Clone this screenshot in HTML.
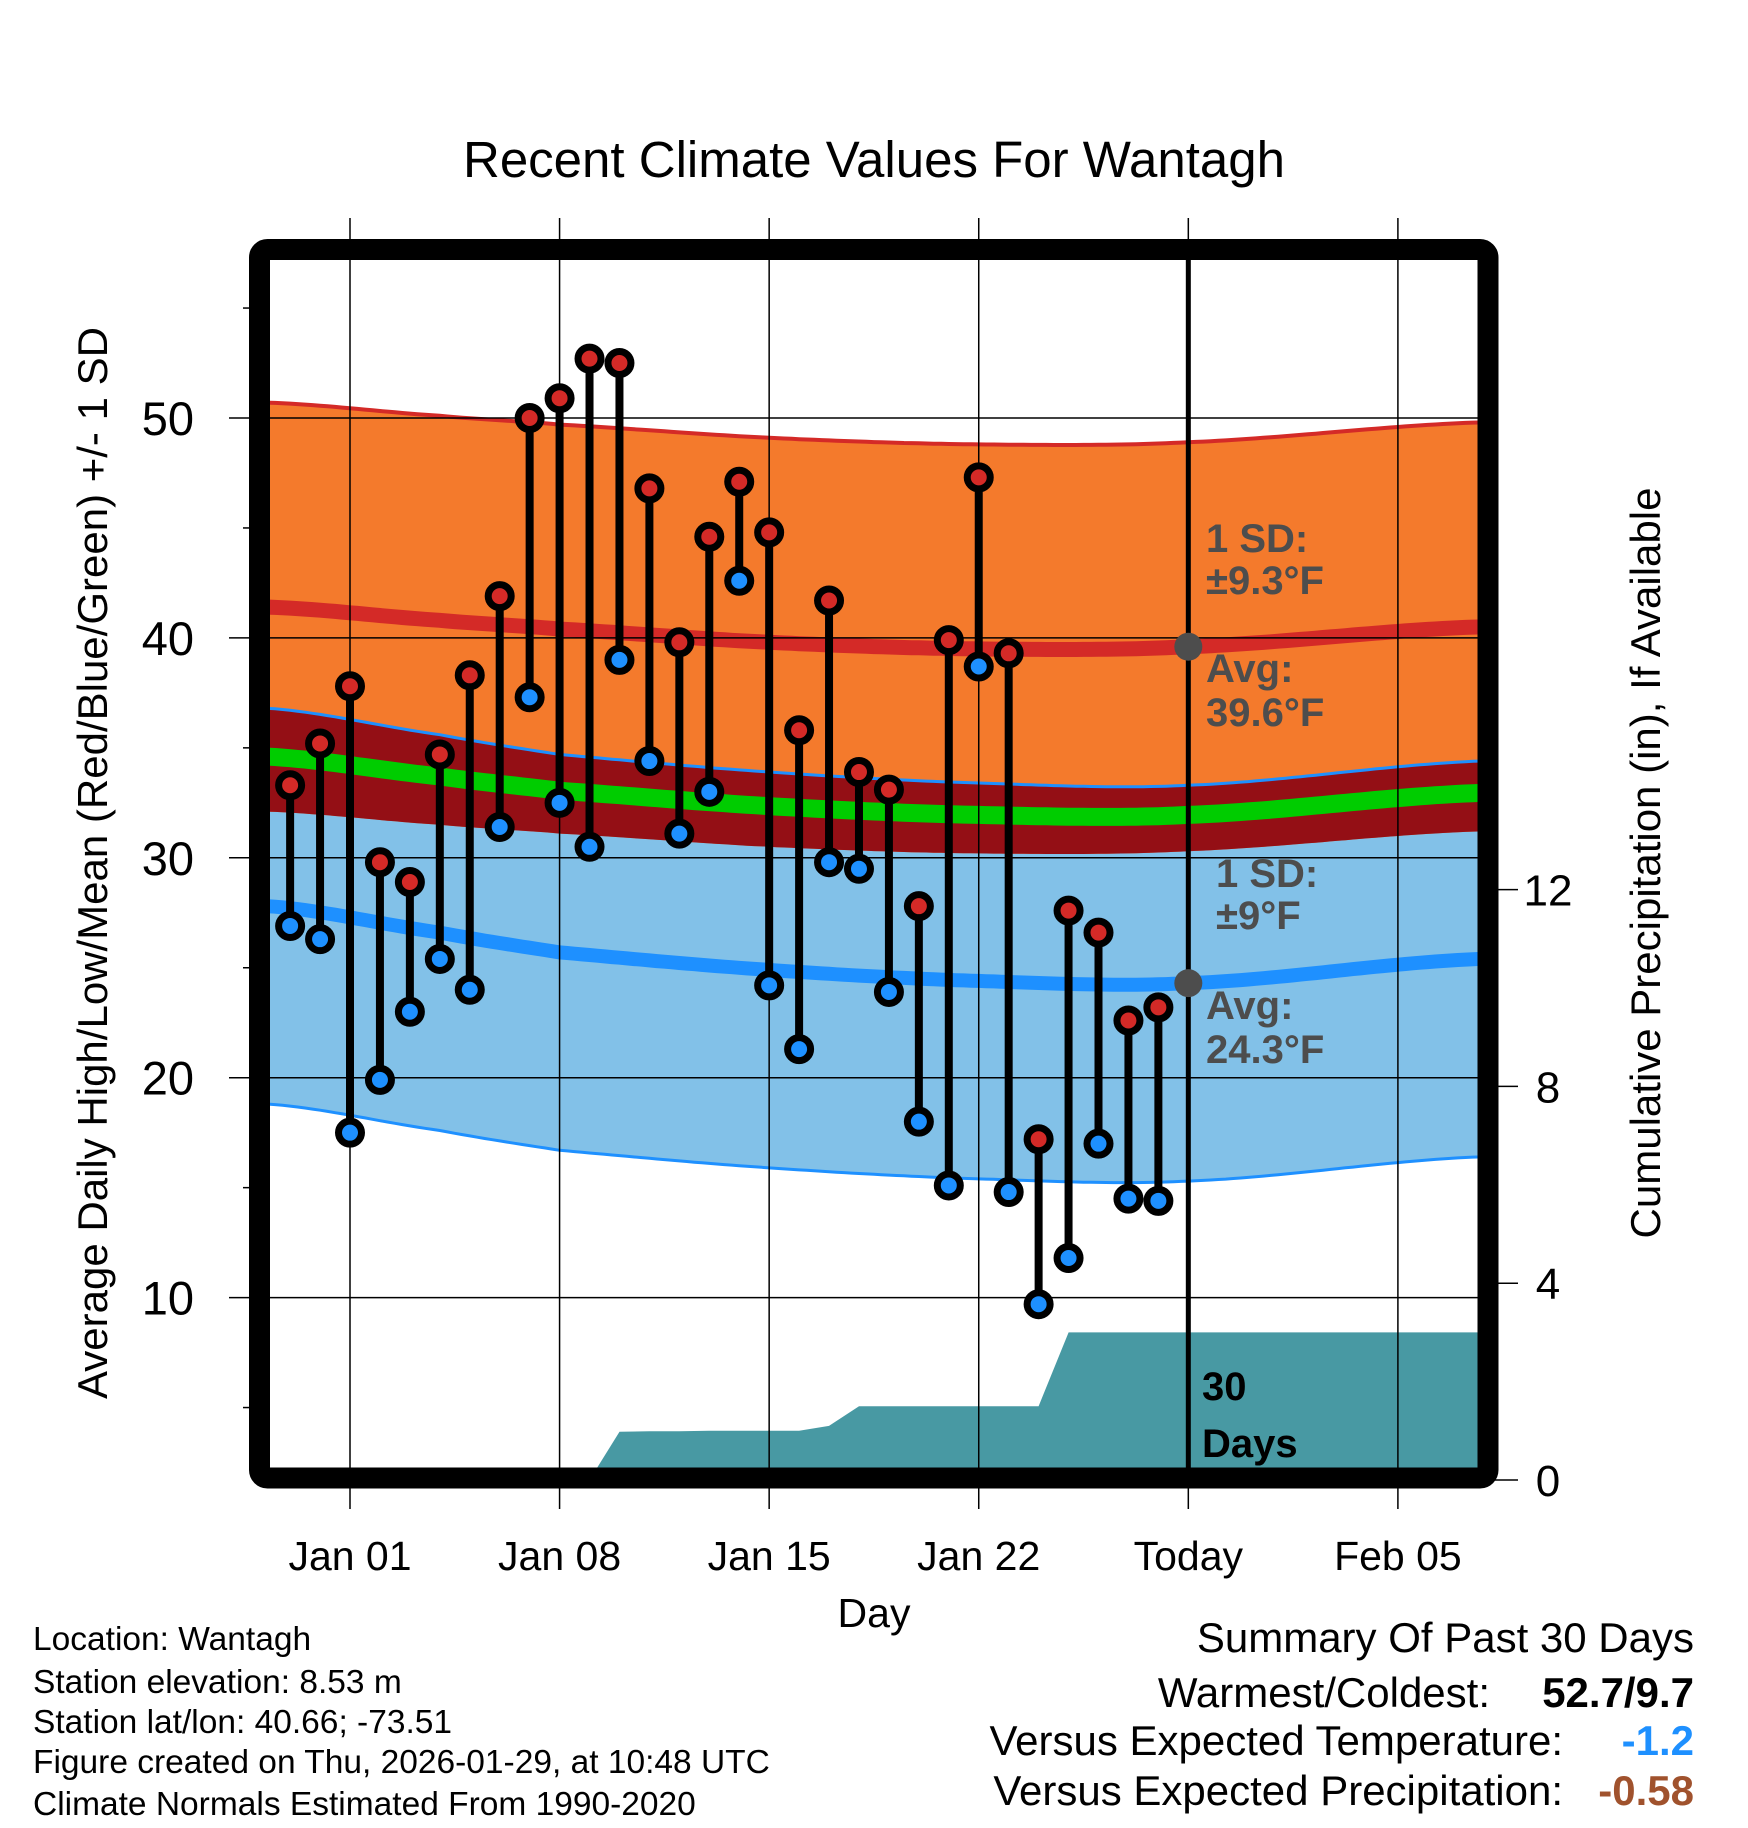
<!DOCTYPE html>
<html><head><meta charset="utf-8"><style>
html,body{margin:0;padding:0;background:#fff;}
svg{display:block;font-family:"Liberation Sans",Arial,sans-serif;}
</style></head><body>
<svg id="chart" xmlns="http://www.w3.org/2000/svg" width="1748" height="1828" viewBox="0 0 1748 1828">
<defs><clipPath id="plotclip"><rect x="270" y="260" width="1208" height="1208"/></clipPath></defs>
<text x="874" y="177" font-size="51" text-anchor="middle">Recent Climate Values For Wantagh</text>
<g id="bands" clip-path="url(#plotclip)"></g>
<g id="grid"></g>
<g id="marks" clip-path="url(#plotclip)"></g>
<rect x="259.5" y="249.5" width="1228.5" height="1228.5" rx="8" fill="none" stroke="#000" stroke-width="21"/>
<g id="axes"></g>
<text transform="translate(107,863) rotate(-90)" font-size="42" text-anchor="middle">Average Daily High/Low/Mean (Red/Blue/Green) +/- 1 SD</text>
<text transform="translate(1660,863) rotate(-90)" font-size="42" text-anchor="middle">Cumulative Precipitation (in), If Available</text>
<text x="874" y="1627" font-size="41" text-anchor="middle">Day</text>
<g font-size="40" font-weight="bold" fill="#4d4d4d">
<text x="1206" y="552">1 SD:</text><text x="1206" y="594">±9.3°F</text>
<text x="1206" y="682">Avg:</text><text x="1206" y="726">39.6°F</text>
</g>
<g font-size="40" font-weight="bold" fill="#4d4d4d">
<text x="1216" y="887">1 SD:</text><text x="1216" y="929">±9°F</text>
<text x="1206" y="1019">Avg:</text><text x="1206" y="1063">24.3°F</text>
</g>
<g font-size="40" font-weight="bold" fill="#000">
<text x="1202" y="1400">30</text><text x="1202" y="1457">Days</text>
</g>
<g font-size="33.5" fill="#000">
<text x="33" y="1650">Location: Wantagh</text>
<text x="33" y="1693">Station elevation: 8.53 m</text>
<text x="33" y="1733">Station lat/lon: 40.66; -73.51</text>
<text x="33" y="1773">Figure created on Thu, 2026-01-29, at 10:48 UTC</text>
<text x="33" y="1815">Climate Normals Estimated From 1990-2020</text>
</g>
<g font-size="42" fill="#000" text-anchor="end">
<text x="1694" y="1652">Summary Of Past 30 Days</text>
<text x="1490" y="1707">Warmest/Coldest:</text>
<text x="1694" y="1707" font-weight="bold">52.7/9.7</text>
<text x="1563" y="1755">Versus Expected Temperature:</text>
<text x="1694" y="1755" font-weight="bold" fill="#1e90ff">-1.2</text>
<text x="1563" y="1805">Versus Expected Precipitation:</text>
<text x="1694" y="1805" font-weight="bold" fill="#a0522d">-0.58</text>
</g>
</svg>
<script>
// ---- data ----
const normDays = [-2.7, 3, 7, 14, 21, 28, 37.7];
const highAvg = [41.4, 40.8, 40.4, 39.8, 39.5, 39.6, 40.5];
const lowAvg = [27.8, 26.6, 25.7, 24.9, 24.4, 24.3, 25.4];
const highSD = 9.3;
const lowSD = 9.0;
const obsDays = [-2,-1,0,1,2,3,4,5,6,7,8,9,10,11,12,13,14,15,16,17,18,19,20,21,22,23,24,25,26,27];
const highs = [33.3,35.2,37.8,29.8,28.9,34.7,38.3,41.9,50.0,50.9,52.7,52.5,46.8,39.8,44.6,47.1,44.8,35.8,41.7,33.9,33.1,27.8,39.9,47.3,39.3,17.2,27.6,26.6,22.6,23.2];
const lows = [26.9,26.3,17.5,19.9,23.0,25.4,24.0,31.4,37.3,32.5,30.5,39.0,34.4,31.1,33.0,42.6,24.2,21.3,29.8,29.5,23.9,18.0,15.1,38.7,14.8,9.7,11.8,17.0,14.5,14.4];
const precipDays = [-2,8,9,10,11,12,13,14,15,16,17,23,24,28,37.7];
const precipVals = [0,0,0.98,0.99,0.99,1.0,1.0,1.0,1.0,1.1,1.5,1.5,3.0,3.0,3.0];
const xTickDays = [0,7,14,21,28,35];
const xTickLabels = ["Jan 01","Jan 08","Jan 15","Jan 22","Today","Feb 05"];
const yTicks = [10,20,30,40,50];
const y2Ticks = [0,4,8,12];
const todayDay = 28;

// ---- scales ----
const X = d => 350 + d * 29.94;
const Y = t => 418 + (50 - t) * 21.99;
const Y2 = p => 1480 - p * 49.2;
const NS = "http://www.w3.org/2000/svg";
function mk(tag, attrs, parent){const e=document.createElementNS(NS,tag);for(const k in attrs)e.setAttribute(k,attrs[k]);parent.appendChild(e);return e;}
function interp(xs, ys, x){
  if(x<=xs[0])return ys[0];
  for(let i=0;i<xs.length-1;i++){
    if(x<=xs[i+1]){
      const p0=ys[Math.max(i-1,0)],p1=ys[i],p2=ys[i+1],p3=ys[Math.min(i+2,ys.length-1)];
      const t=(x-xs[i])/(xs[i+1]-xs[i]);
      return 0.5*((2*p1)+(-p0+p2)*t+(2*p0-5*p1+4*p2-p3)*t*t+(-p0+3*p1-3*p2+p3)*t*t*t);
    }
  }
  return ys[ys.length-1];
}
const samp=[];for(let d=-3;d<=38;d+=0.25)samp.push(d);
const hA=d=>interp(normDays,highAvg,d), lA=d=>interp(normDays,lowAvg,d);
function line(f){return samp.map((d,i)=>(i?"L":"M")+X(d).toFixed(1)+","+Y(f(d)).toFixed(1)).join("");}
function band(fTop,fBot){
  let s=samp.map((d,i)=>(i?"L":"M")+X(d).toFixed(1)+","+Y(fTop(d)).toFixed(1)).join("");
  s+=samp.slice().reverse().map(d=>"L"+X(d).toFixed(1)+","+Y(fBot(d)).toFixed(1)).join("");
  return s+"Z";
}
const bands=document.getElementById("bands");
let e;
e=mk("path",{d:band(d=>lA(d)+lowSD,d=>lA(d)-lowSD),fill:"#82c1e8"},bands);


e=mk("path",{d:band(d=>hA(d)+highSD,d=>hA(d)-highSD),fill:"#f47a2c"},bands);


e=mk("path",{d:band(d=>lA(d)+lowSD,d=>hA(d)-highSD),fill:"#940f15"},bands);


e=mk("path",{d:line(d=>lA(d)+lowSD),fill:"none",stroke:"#1e90ff",'stroke-width':3},bands);


e=mk("path",{d:line(d=>lA(d)-lowSD),fill:"none",stroke:"#1e90ff",'stroke-width':3},bands);


e=mk("path",{d:line(d=>hA(d)+highSD),fill:"none",stroke:"#d42a27",'stroke-width':4},bands);


e=mk("path",{d:line(hA),fill:"none",stroke:"#d42a27",'stroke-width':15},bands);


e=mk("path",{d:line(lA),fill:"none",stroke:"#1e90ff",'stroke-width':14},bands);


e=mk("path",{d:line(d=>(hA(d)+lA(d))/2),fill:"none",stroke:"#00cc00",'stroke-width':18},bands);


// precipitation
let pd="M"+X(precipDays[0])+","+Y2(0);
precipDays.forEach((d,i)=>{pd+="L"+X(d).toFixed(1)+","+Y2(precipVals[i]).toFixed(1);});
pd+="L"+X(precipDays[precipDays.length-1])+","+Y2(0)+"Z";
e=mk("path",{d:pd,fill:"#4899a3"},bands);



// grid + ticks
const grid=document.getElementById("grid"), axes=document.getElementById("axes");
xTickDays.forEach((d,i)=>{
  const x=X(d);
  e=mk("line",{x1:x,y1:218,x2:x,y2:1509,stroke:"#000",'stroke-width':1.5},grid);
  
  
  if(d===todayDay){
    e=mk("line",{x1:x,y1:260,x2:x,y2:1468,stroke:"#000",'stroke-width':5},grid);
    
    
  }
  e=mk("text",{x:x,y:1570,'font-size':41,'text-anchor':'middle'},axes);
  e.textContent=xTickLabels[i];
  
  
});
yTicks.forEach(t=>{
  const y=Y(t);
  e=mk("line",{x1:229,y1:y,x2:1478,y2:y,stroke:"#000",'stroke-width':1.5},grid);
  
  
  e=mk("text",{x:194,y:y+17,'font-size':47,'text-anchor':'end'},axes);
  e.textContent=String(t);
  
  
});
for(let t=5;t<=55;t+=10){
  e=mk("line",{x1:243,y1:Y(t),x2:250,y2:Y(t),stroke:"#000",'stroke-width':1.5},axes);
  
  
}
y2Ticks.forEach(p=>{
  const y=Y2(p);
  e=mk("line",{x1:1495,y1:y,x2:1518,y2:y,stroke:"#000",'stroke-width':1.5},axes);
  
  
  e=mk("text",{x:1548,y:y+16,'font-size':44,'text-anchor':'middle'},axes);
  e.textContent=String(p);
  
  
});

// observations
const marks=document.getElementById("marks");
obsDays.forEach((d,i)=>{
  const x=X(d);
  e=mk("line",{x1:x,y1:Y(highs[i]),x2:x,y2:Y(lows[i]),stroke:"#000",'stroke-width':8},marks);
  
  
});
obsDays.forEach((d,i)=>{
  const x=X(d);
  e=mk("circle",{cx:x,cy:Y(highs[i]),r:11.5,fill:"#d42a27",stroke:"#000",'stroke-width':7},marks);
  
  
  e=mk("circle",{cx:x,cy:Y(lows[i]),r:11.5,fill:"#1e90ff",stroke:"#000",'stroke-width':7},marks);
  
  
});
e=mk("circle",{cx:X(todayDay),cy:Y(hA(todayDay)),r:14,fill:"#4d4d4d"},marks);


e=mk("circle",{cx:X(todayDay),cy:Y(lA(todayDay)),r:14,fill:"#4d4d4d"},marks);


</script>
</body></html>
